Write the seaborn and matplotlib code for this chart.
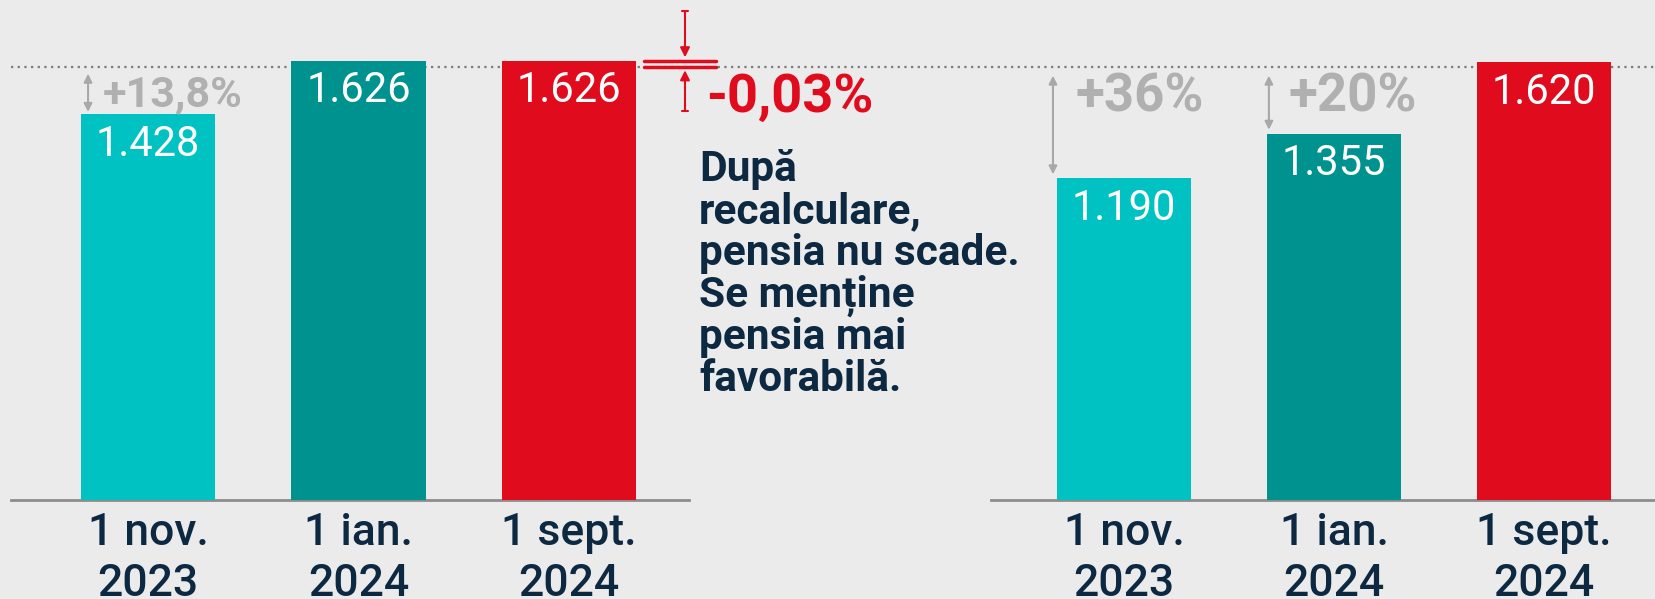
import matplotlib
matplotlib.use("Agg")
import matplotlib.pyplot as plt
import seaborn as sns
import pandas as pd
from matplotlib.lines import Line2D

# date si etichete
categorii = ["1 nov.\n2023", "1 ian.\n2024", "1 sept.\n2024"]
pensie_stanga = [1428, 1626, 1626]
pensie_dreapta = [1190, 1355, 1620]
etichete_stanga = ["1.428", "1.626", "1.626"]
etichete_dreapta = ["1.190", "1.355", "1.620"]
crestere_stanga = ["+13,8%"]
crestere_dreapta = ["+36%", "+20%"]
scadere_text = "-0,03%"
nota = "După\nrecalculare,\npensia nu scade.\nSe menține\npensia mai\nfavorabilă."

CYAN = "#00c2c2"
TEAL = "#00928f"
RED = "#e00b1c"
NAVY = "#0d2942"
GRAY_TXT = "#b0b0b0"
GRAY_ARR = "#a8a8a8"
BG = "#ebebeb"

YMAX = 1850
DOT_LEVEL = 1602
W = 0.637

sns.set_theme(style="white")
plt.rcParams["font.family"] = ["Roboto", "DejaVu Sans"]

fig = plt.figure(figsize=(16.56, 5.99), dpi=100)
fig.patch.set_facecolor(BG)

ax1 = fig.add_axes([11 / 1656, 99 / 599, 678 / 1656, 500 / 599])
ax2 = fig.add_axes([991 / 1656, 99 / 599, 665 / 1656, 500 / 599])

# linia punctata de referinta, sub bare
dot = Line2D([11 / 1656, 1.0], [1 - 67 / 599, 1 - 67 / 599], transform=fig.transFigure,
             color="#7a7a7a", lw=1.6, linestyle=(0, (1, 2)), zorder=-1)
fig.add_artist(dot)


def deseneaza(ax, valori, etichete, xlim):
    df = pd.DataFrame({"data": categorii, "pensie": valori})
    sns.barplot(data=df, x="data", y="pensie", hue="data",
                palette=[CYAN, TEAL, RED], width=W, saturation=1, linewidth=0,
                legend=False, ax=ax, zorder=2)
    ax.set_facecolor("none")
    ax.set_xlim(*xlim)
    ax.set_ylim(0, YMAX)
    ax.set_yticks([])
    ax.set_xlabel("")
    ax.set_ylabel("")
    for s in ["top", "left", "right"]:
        ax.spines[s].set_visible(False)
    ax.spines["bottom"].set_color("#8c8c8c")
    ax.spines["bottom"].set_linewidth(2)
    ax.spines["bottom"].set_zorder(1)
    ax.tick_params(axis="x", length=0, pad=8.5)
    ax.set_xticks(range(3))
    ax.set_xticklabels(categorii, fontsize=32, fontweight="medium", color=NAVY,
                       linespacing=1.27)
    for i, (v, t) in enumerate(zip(valori, etichete)):
        ax.annotate(t, (i, v), xytext=(0, -21.6), textcoords="offset points",
                    ha="center", va="center", color="white", fontsize=30, zorder=3)


deseneaza(ax1, pensie_stanga, etichete_stanga, (-0.651, 2.57))
deseneaza(ax2, pensie_dreapta, etichete_dreapta, (-0.633, 2.533))

sageata_gri = dict(arrowstyle="<|-|>", color=GRAY_ARR, lw=1.5, mutation_scale=12,
                   shrinkA=0, shrinkB=0)

# panou stanga: crestere
ax1.annotate("", xy=(-0.285, pensie_stanga[0] + 8), xytext=(-0.285, DOT_LEVEL - 25),
             arrowprops=sageata_gri, annotation_clip=False)
ax1.text(-0.214, 1500, crestere_stanga[0], ha="left", va="center", fontsize=31,
         fontweight="bold", color=GRAY_TXT)

# panou stanga: scadere
ax1.plot([2.356, 2.698], [pensie_stanga[2], pensie_stanga[2]], color=RED, lw=2.5,
         clip_on=False, zorder=4)
ax1.plot([2.356, 2.698], [DOT_LEVEL, DOT_LEVEL], color=RED, lw=2.5, clip_on=False, zorder=4)
sageata_rosie = dict(arrowstyle="-|>", color=RED, lw=1.5, mutation_scale=14,
                     shrinkA=0, shrinkB=0)
ax1.annotate("", xy=(2.551, pensie_stanga[2] + 12), xytext=(2.551, 1809),
             arrowprops=sageata_rosie, annotation_clip=False)
ax1.annotate("", xy=(2.551, DOT_LEVEL - 12), xytext=(2.551, 1439),
             arrowprops=sageata_rosie, annotation_clip=False)
for yy in [1809, 1439]:
    ax1.plot([2.535, 2.567], [yy, yy], color=RED, lw=1.5, clip_on=False)
ax1.text(2.651, 1491, scadere_text, ha="left", va="center", fontsize=39,
         fontweight="bold", color=RED)
ax1.text(2.618, 1297, nota, ha="left", va="top", fontsize=30.5, fontweight="bold",
         color=NAVY, linespacing=1.02)

# panou dreapta: cresteri
ax2.annotate("", xy=(-0.338, pensie_dreapta[0] + 15), xytext=(-0.338, 1570),
             arrowprops=sageata_gri, annotation_clip=False)
ax2.annotate("", xy=(0.69, pensie_dreapta[1] + 15), xytext=(0.69, 1570),
             arrowprops=sageata_gri, annotation_clip=False)
ax2.text(-0.233, 1491, crestere_dreapta[0], ha="left", va="center", fontsize=38,
         fontweight="bold", color=GRAY_TXT)
ax2.text(0.781, 1491, crestere_dreapta[1], ha="left", va="center", fontsize=38,
         fontweight="bold", color=GRAY_TXT)

fig.savefig("out.png", dpi=100, facecolor=BG)
plt.close(fig)
